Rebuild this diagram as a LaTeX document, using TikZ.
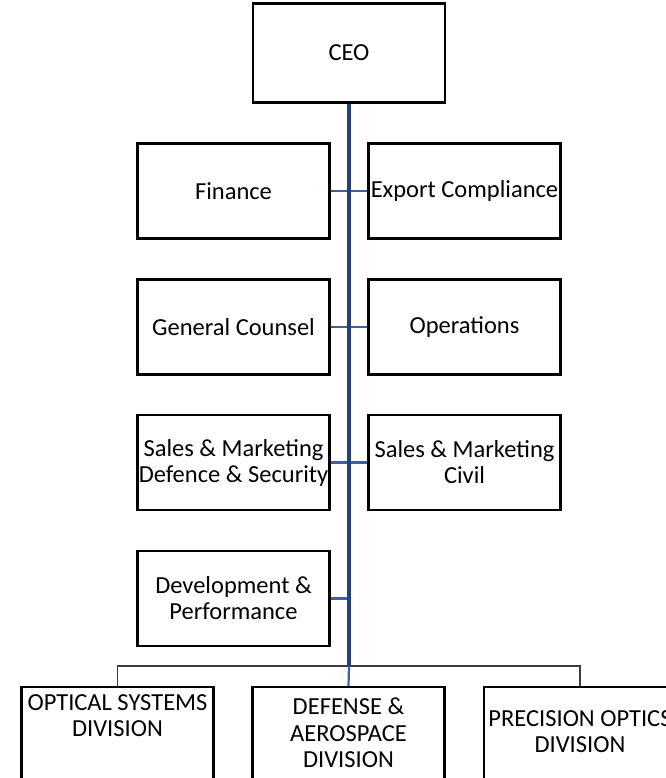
\documentclass[tikz,border=0pt]{standalone}
\usepackage{fontspec}
\setmainfont{Carlito}
\usepackage{tikz}
\definecolor{spineblue}{RGB}{36,64,116}
\definecolor{branchblue}{RGB}{59,96,163}
\definecolor{busgray}{RGB}{60,60,60}
\tikzset{box/.style={draw, line width=2.4pt, fill=white, inner sep=0pt,
      minimum width=192pt, minimum height=95pt, align=center,
      font=\fontsize{24.5}{26}\selectfont}}
\tikzset{divtext/.style={inner sep=0pt, align=center, anchor=north,
      font=\fontsize{24.5}{26.5}\selectfont}}
\tikzset{spine/.style={spineblue, line width=3.2pt}}
\tikzset{branch/.style={branchblue, line width=2.2pt}}
\tikzset{busline/.style={busgray, line width=1.4pt}}

\begin{document}
\begin{tikzpicture}[x=1pt,y=-1pt]
    \useasboundingbox (0,0) rectangle (665,778);
    % boxes hanging off the spine
    \node[box, minimum height=99pt] (ceo) at (349,53) {CEO};
    \node[box] (fin) at (233.5,191) {Finance};
    \node[box] (exp) at (464.5,191) {Export Compliance};
    \node[box] (gc) at (233.5,327) {General Counsel};
    \node[box] (ops) at (464.5,327) {Operations};
    \node[box] (smd) at (233.5,462.5) {Sales \& Marketing\\Defence \& Security};
    \node[box] (smc) at (464.5,462.5) {Sales \& Marketing\\Civil};
    \node[box] (dev) at (233.5,598.5) {Development \&\\Performance};
    \coordinate (bus) at (349,666);

    % divisions, text sits at the top of each box
    \node[box, anchor=north, minimum height=100pt] (osd) at (117.5,686) {};
    \node[box, anchor=north, minimum height=100pt] (dad) at (348.5,686) {};
    \node[box, anchor=north, minimum height=100pt] (pod) at (580,686) {};
    \node[divtext] (osdtxt) at (117.5,694) {OPTICAL SYSTEMS\\DIVISION};
    \node[divtext] (dadtxt) at (348.5,698) {DEFENSE \&\\AEROSPACE\\DIVISION};
    \node[divtext] (podtxt) at (580,710) {PRECISION OPTICS\\DIVISION};

    \draw[branch] (fin) -- (exp);
    \draw[branch] (gc) -- (ops);
    \draw[branch] (smd) -- (smc);
    \draw[branch] (dev) -- (dev -| bus);
    \draw[busline] (osd.north) |- (bus) -| (pod.north);
    \draw[branch] (bus) -- (dad.north);
    \draw[spine] (ceo) -- (bus);
\end{tikzpicture}
\end{document}
